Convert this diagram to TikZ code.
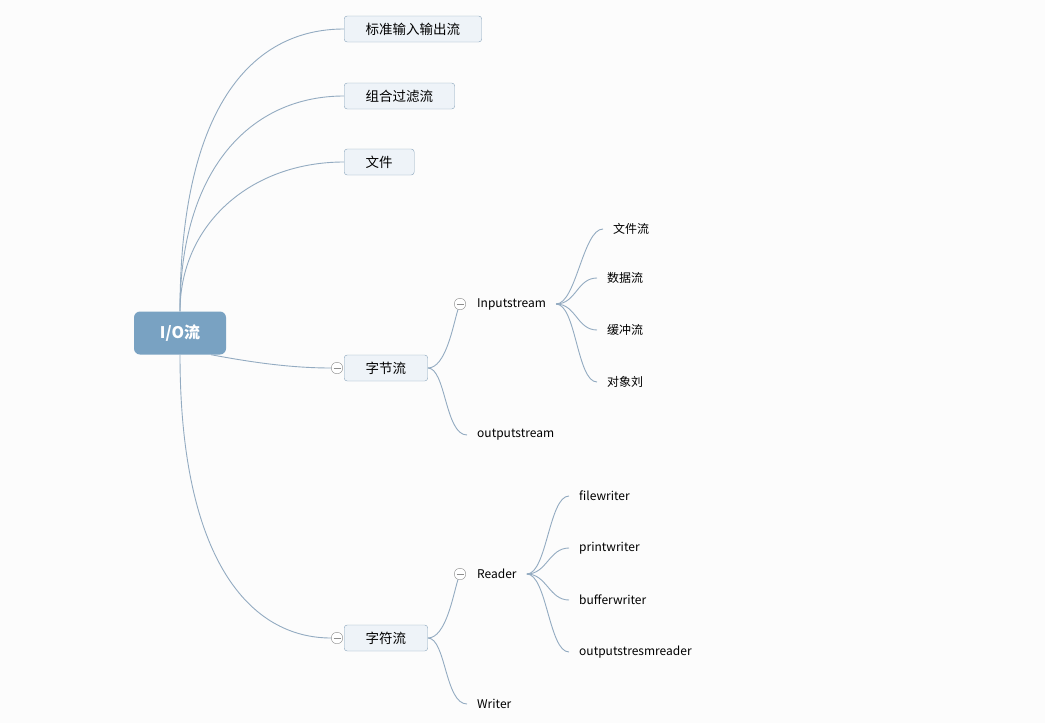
\documentclass[tikz,border=0pt]{standalone}
\usepackage{fontspec}
\setmainfont{Noto Sans CJK SC}
\usepackage{xcolor}
\usepackage{tikz}
\usetikzlibrary{positioning}

\definecolor{bgc}{HTML}{FCFCFC}
\definecolor{linkc}{HTML}{93ABC1}
\definecolor{boxfill}{HTML}{EEF3F8}
\definecolor{boxline}{HTML}{8AA5BC}
\definecolor{rootc}{HTML}{79A2C2}
\definecolor{foldc}{HTML}{8E8E8E}

\begin{document}
\begin{tikzpicture}[
  x=1pt, y=-1pt,
  link/.style={draw=linkc, line width=0.9pt},
  main/.style={fill=rootc, rounded corners=6pt, text=white, minimum width=92pt, minimum height=43pt, font=\fontsize{16}{18}\selectfont\bfseries},
  topic/.style={draw=boxline, fill=boxfill, rounded corners=3pt, anchor=west, minimum height=26pt, inner xsep=21.5pt, font=\fontsize{13.5}{16}\selectfont},
  leaf/.style={anchor=west, inner xsep=10pt, font=\fontsize{12}{14}\selectfont},
  fold/.style={circle, draw=foldc, fill=white, minimum size=11.5pt, inner sep=0pt,
    path picture={\draw[foldc] ([xshift=-3.5pt]path picture bounding box.center) -- ([xshift=3.5pt]path picture bounding box.center);}}
]
\fill[bgc] (0,0) rectangle (1045,723);

% root and first level
\node[main] (io) at (180,333) {I/O流};
\node[topic] (std) at (344,29) {标准输入输出流};
\node[topic] (flt) at (344,96) {组合过滤流};
\node[topic] (fil) at (344,162) {文件};
\node[topic] (byte) at (344,368) {字节流};
\node[topic] (char) at (344,638) {字符流};
\node[fold] (fb) at (337,368) {};
\node[fold] (fc) at (337,638) {};

% byte streams
\node[fold] (fi) at (460,304) {};
\node[leaf] (ins) at (467,304) {Inputstream};
\node[leaf] (outs) at (467,435) {outputstream};
\node[leaf] (fs) at (603,229) {文件流};
\node[leaf] (ds) at (597,278) {数据流};
\node[leaf] (bs) at (597,330) {缓冲流};
\node[leaf] (os) at (597,382) {对象刘};

% char streams
\node[fold] (fr) at (460,574) {};
\node[leaf] (rd) at (467,574) {Reader};
\node[leaf] (wr) at (467,704) {Writer};
\node[leaf] (fw) at (569,496) {filewriter};
\node[leaf] (pw) at (569,548) {printwriter};
\node[leaf] (bw) at (569,600) {bufferwriter};
\node[leaf] (osr) at (569,652) {outputstresmreader};

% connectors
\draw[link] (io.north) .. controls (180,110) and (250,29) .. (std.west);
\draw[link] (io.north) .. controls (180,170) and (250,96) .. (flt.west);
\draw[link] (io.north) .. controls (180,225) and (250,162) .. (fil.west);
\draw[link] (io.-35) .. controls (250,362) and (290,368) .. (fb.west);
\draw[link] (io.south) .. controls (180,560) and (250,638) .. (fc.west);

\draw[link] (byte.east) .. controls +(18,0) and +(-5,16) .. (fi.250);
\draw[link] (byte.east) .. controls +(18,0) and +(-22,0) .. (outs.west);
\draw[link] (char.east) .. controls +(18,0) and +(-5,16) .. (fr.250);
\draw[link] (char.east) .. controls +(18,0) and +(-22,0) .. (wr.west);

\foreach \c in {fs,ds,bs,os}
  \draw[link] (ins.east) .. controls +(20,0) and +(-20,0) .. (\c.west);
\foreach \c in {fw,pw,bw,osr}
  \draw[link] (rd.east) .. controls +(20,0) and +(-20,0) .. (\c.west);
\end{tikzpicture}
\end{document}
